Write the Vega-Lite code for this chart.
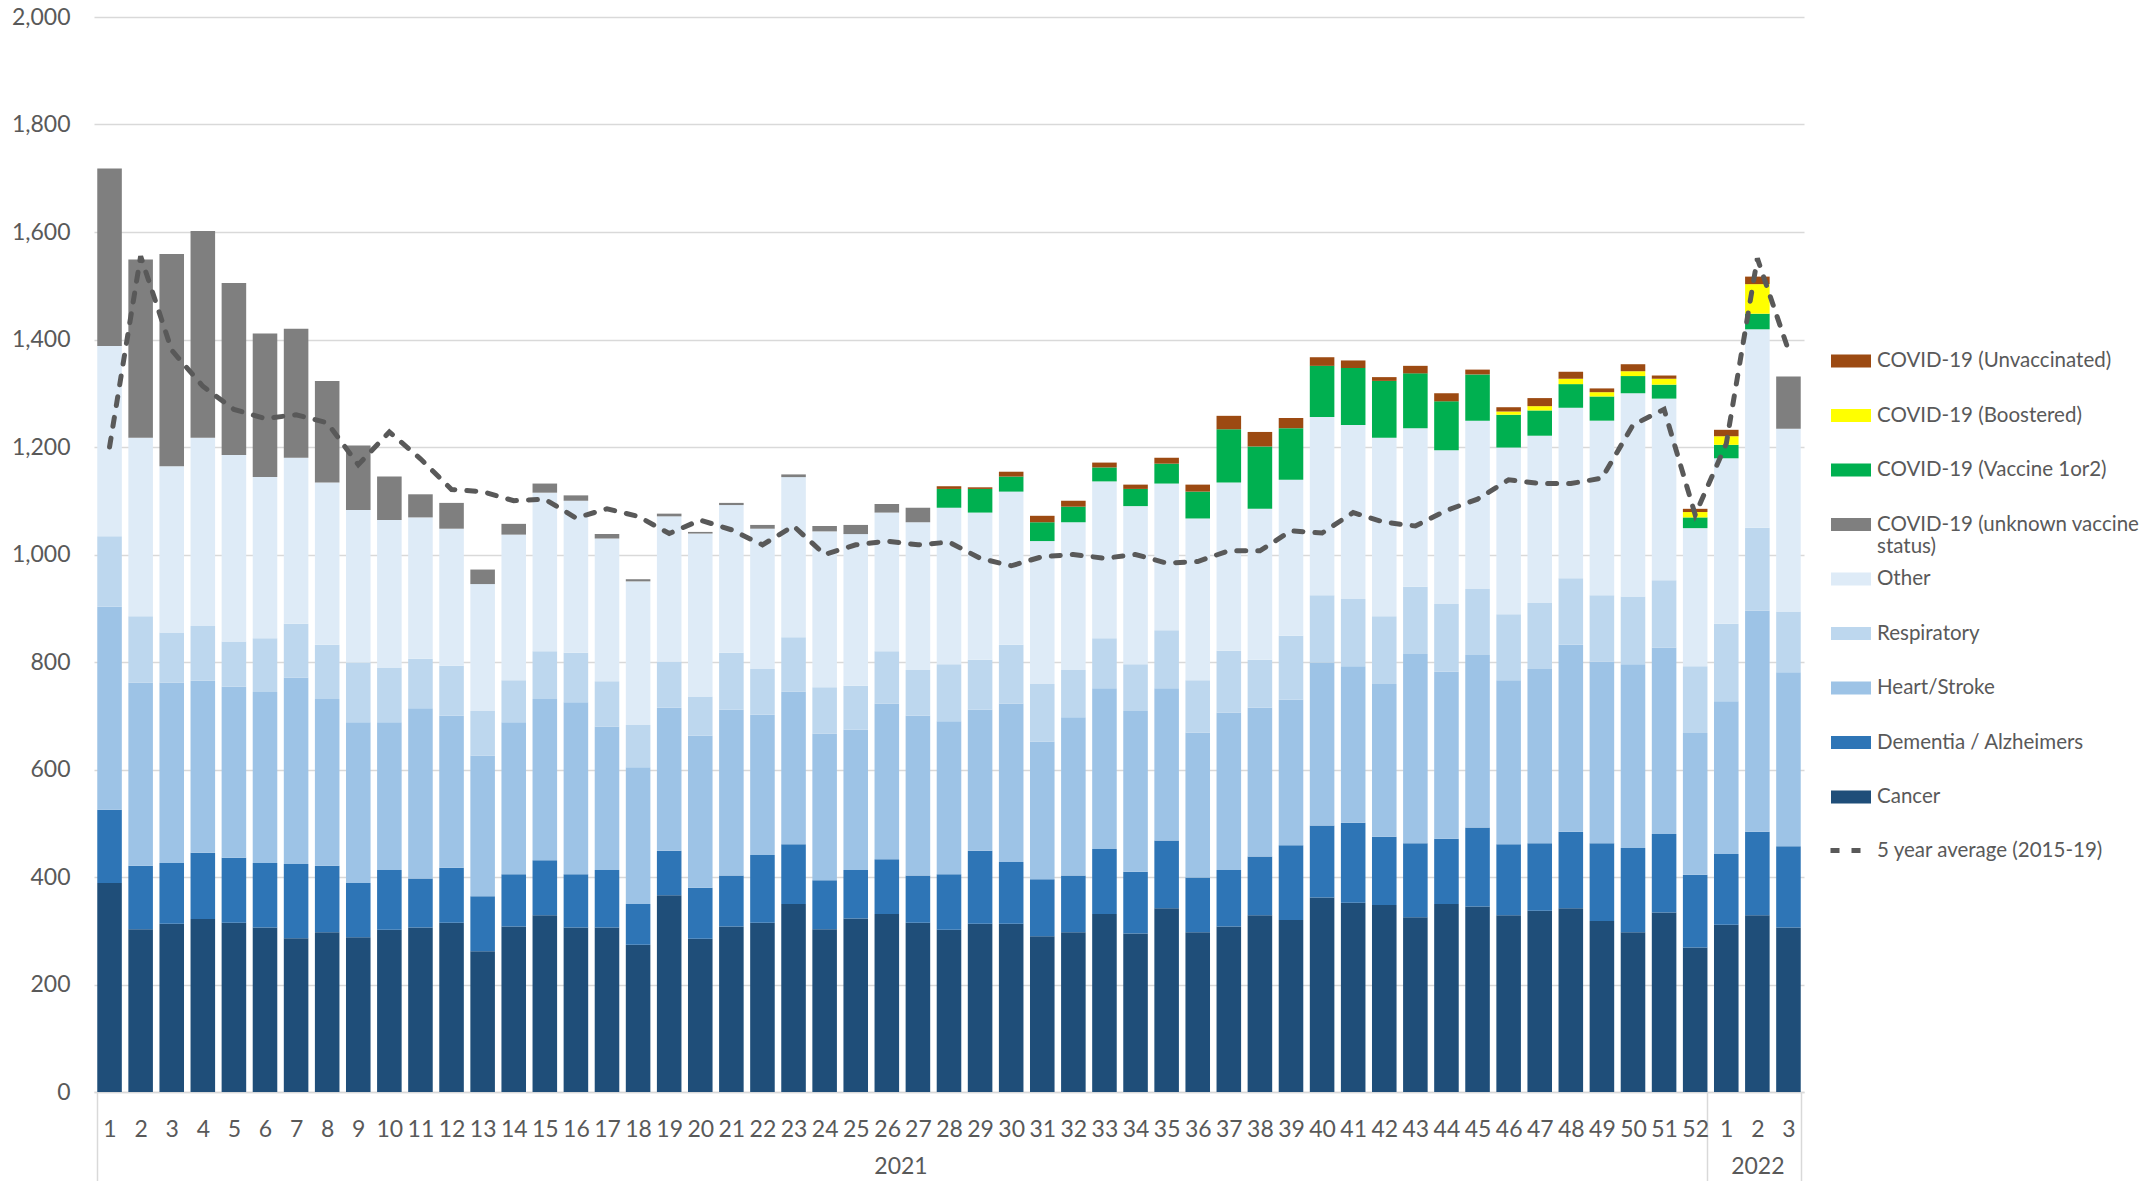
{
  "$schema": "https://vega.github.io/schema/vega-lite/v6.json",
  "autosize": {"type": "none"},
  "width": 1710,
  "height": 1075,
  "padding": {"left": 94, "top": 17, "right": 350, "bottom": 89},
  "background": "white",
  "config": {"view": {"stroke": null}, "font": "Lato"},
  "datasets": {
    "bars": [
      {"week":"2021-01","cause":"Cancer","deaths":389},{"week":"2021-01","cause":"Dementia / Alzheimers","deaths":136},{"week":"2021-01","cause":"Heart/Stroke","deaths":378},{"week":"2021-01","cause":"Respiratory","deaths":131},{"week":"2021-01","cause":"Other","deaths":354},{"week":"2021-01","cause":"COVID-19 (unknown vaccine status)","deaths":330},
      {"week":"2021-02","cause":"Cancer","deaths":303},{"week":"2021-02","cause":"Dementia / Alzheimers","deaths":118},{"week":"2021-02","cause":"Heart/Stroke","deaths":341},{"week":"2021-02","cause":"Respiratory","deaths":123},{"week":"2021-02","cause":"Other","deaths":332},{"week":"2021-02","cause":"COVID-19 (unknown vaccine status)","deaths":332},
      {"week":"2021-03","cause":"Cancer","deaths":313},{"week":"2021-03","cause":"Dementia / Alzheimers","deaths":113},{"week":"2021-03","cause":"Heart/Stroke","deaths":336},{"week":"2021-03","cause":"Respiratory","deaths":93},{"week":"2021-03","cause":"Other","deaths":309},{"week":"2021-03","cause":"COVID-19 (unknown vaccine status)","deaths":395},
      {"week":"2021-04","cause":"Cancer","deaths":322},{"week":"2021-04","cause":"Dementia / Alzheimers","deaths":123},{"week":"2021-04","cause":"Heart/Stroke","deaths":320},{"week":"2021-04","cause":"Respiratory","deaths":102},{"week":"2021-04","cause":"Other","deaths":350},{"week":"2021-04","cause":"COVID-19 (unknown vaccine status)","deaths":385},
      {"week":"2021-05","cause":"Cancer","deaths":315},{"week":"2021-05","cause":"Dementia / Alzheimers","deaths":121},{"week":"2021-05","cause":"Heart/Stroke","deaths":318},{"week":"2021-05","cause":"Respiratory","deaths":84},{"week":"2021-05","cause":"Other","deaths":347},{"week":"2021-05","cause":"COVID-19 (unknown vaccine status)","deaths":320},
      {"week":"2021-06","cause":"Cancer","deaths":306},{"week":"2021-06","cause":"Dementia / Alzheimers","deaths":120},{"week":"2021-06","cause":"Heart/Stroke","deaths":318},{"week":"2021-06","cause":"Respiratory","deaths":100},{"week":"2021-06","cause":"Other","deaths":300},{"week":"2021-06","cause":"COVID-19 (unknown vaccine status)","deaths":267},
      {"week":"2021-07","cause":"Cancer","deaths":286},{"week":"2021-07","cause":"Dementia / Alzheimers","deaths":138},{"week":"2021-07","cause":"Heart/Stroke","deaths":347},{"week":"2021-07","cause":"Respiratory","deaths":100},{"week":"2021-07","cause":"Other","deaths":309},{"week":"2021-07","cause":"COVID-19 (unknown vaccine status)","deaths":240},
      {"week":"2021-08","cause":"Cancer","deaths":297},{"week":"2021-08","cause":"Dementia / Alzheimers","deaths":124},{"week":"2021-08","cause":"Heart/Stroke","deaths":310},{"week":"2021-08","cause":"Respiratory","deaths":101},{"week":"2021-08","cause":"Other","deaths":302},{"week":"2021-08","cause":"COVID-19 (unknown vaccine status)","deaths":189},
      {"week":"2021-09","cause":"Cancer","deaths":288},{"week":"2021-09","cause":"Dementia / Alzheimers","deaths":101},{"week":"2021-09","cause":"Heart/Stroke","deaths":299},{"week":"2021-09","cause":"Respiratory","deaths":111},{"week":"2021-09","cause":"Other","deaths":284},{"week":"2021-09","cause":"COVID-19 (unknown vaccine status)","deaths":120},
      {"week":"2021-10","cause":"Cancer","deaths":302},{"week":"2021-10","cause":"Dementia / Alzheimers","deaths":111},{"week":"2021-10","cause":"Heart/Stroke","deaths":275},{"week":"2021-10","cause":"Respiratory","deaths":102},{"week":"2021-10","cause":"Other","deaths":274},{"week":"2021-10","cause":"COVID-19 (unknown vaccine status)","deaths":81},
      {"week":"2021-11","cause":"Cancer","deaths":306},{"week":"2021-11","cause":"Dementia / Alzheimers","deaths":91},{"week":"2021-11","cause":"Heart/Stroke","deaths":317},{"week":"2021-11","cause":"Respiratory","deaths":92},{"week":"2021-11","cause":"Other","deaths":263},{"week":"2021-11","cause":"COVID-19 (unknown vaccine status)","deaths":43},
      {"week":"2021-12","cause":"Cancer","deaths":315},{"week":"2021-12","cause":"Dementia / Alzheimers","deaths":102},{"week":"2021-12","cause":"Heart/Stroke","deaths":283},{"week":"2021-12","cause":"Respiratory","deaths":93},{"week":"2021-12","cause":"Other","deaths":255},{"week":"2021-12","cause":"COVID-19 (unknown vaccine status)","deaths":48},
      {"week":"2021-13","cause":"Cancer","deaths":262},{"week":"2021-13","cause":"Dementia / Alzheimers","deaths":102},{"week":"2021-13","cause":"Heart/Stroke","deaths":262},{"week":"2021-13","cause":"Respiratory","deaths":83},{"week":"2021-13","cause":"Other","deaths":236},{"week":"2021-13","cause":"COVID-19 (unknown vaccine status)","deaths":27},
      {"week":"2021-14","cause":"Cancer","deaths":308},{"week":"2021-14","cause":"Dementia / Alzheimers","deaths":97},{"week":"2021-14","cause":"Heart/Stroke","deaths":283},{"week":"2021-14","cause":"Respiratory","deaths":78},{"week":"2021-14","cause":"Other","deaths":271},{"week":"2021-14","cause":"COVID-19 (unknown vaccine status)","deaths":20},
      {"week":"2021-15","cause":"Cancer","deaths":329},{"week":"2021-15","cause":"Dementia / Alzheimers","deaths":102},{"week":"2021-15","cause":"Heart/Stroke","deaths":300},{"week":"2021-15","cause":"Respiratory","deaths":89},{"week":"2021-15","cause":"Other","deaths":295},{"week":"2021-15","cause":"COVID-19 (unknown vaccine status)","deaths":17},
      {"week":"2021-16","cause":"Cancer","deaths":306},{"week":"2021-16","cause":"Dementia / Alzheimers","deaths":99},{"week":"2021-16","cause":"Heart/Stroke","deaths":320},{"week":"2021-16","cause":"Respiratory","deaths":92},{"week":"2021-16","cause":"Other","deaths":283},{"week":"2021-16","cause":"COVID-19 (unknown vaccine status)","deaths":10},
      {"week":"2021-17","cause":"Cancer","deaths":306},{"week":"2021-17","cause":"Dementia / Alzheimers","deaths":107},{"week":"2021-17","cause":"Heart/Stroke","deaths":267},{"week":"2021-17","cause":"Respiratory","deaths":84},{"week":"2021-17","cause":"Other","deaths":266},{"week":"2021-17","cause":"COVID-19 (unknown vaccine status)","deaths":8},
      {"week":"2021-18","cause":"Cancer","deaths":274},{"week":"2021-18","cause":"Dementia / Alzheimers","deaths":76},{"week":"2021-18","cause":"Heart/Stroke","deaths":254},{"week":"2021-18","cause":"Respiratory","deaths":79},{"week":"2021-18","cause":"Other","deaths":267},{"week":"2021-18","cause":"COVID-19 (unknown vaccine status)","deaths":4},
      {"week":"2021-19","cause":"Cancer","deaths":366},{"week":"2021-19","cause":"Dementia / Alzheimers","deaths":83},{"week":"2021-19","cause":"Heart/Stroke","deaths":266},{"week":"2021-19","cause":"Respiratory","deaths":86},{"week":"2021-19","cause":"Other","deaths":270},{"week":"2021-19","cause":"COVID-19 (unknown vaccine status)","deaths":5},
      {"week":"2021-20","cause":"Cancer","deaths":285},{"week":"2021-20","cause":"Dementia / Alzheimers","deaths":95},{"week":"2021-20","cause":"Heart/Stroke","deaths":283},{"week":"2021-20","cause":"Respiratory","deaths":73},{"week":"2021-20","cause":"Other","deaths":303},{"week":"2021-20","cause":"COVID-19 (unknown vaccine status)","deaths":3},
      {"week":"2021-21","cause":"Cancer","deaths":308},{"week":"2021-21","cause":"Dementia / Alzheimers","deaths":95},{"week":"2021-21","cause":"Heart/Stroke","deaths":308},{"week":"2021-21","cause":"Respiratory","deaths":106},{"week":"2021-21","cause":"Other","deaths":275},{"week":"2021-21","cause":"COVID-19 (unknown vaccine status)","deaths":4},
      {"week":"2021-22","cause":"Cancer","deaths":315},{"week":"2021-22","cause":"Dementia / Alzheimers","deaths":126},{"week":"2021-22","cause":"Heart/Stroke","deaths":261},{"week":"2021-22","cause":"Respiratory","deaths":85},{"week":"2021-22","cause":"Other","deaths":261},{"week":"2021-22","cause":"COVID-19 (unknown vaccine status)","deaths":7},
      {"week":"2021-23","cause":"Cancer","deaths":350},{"week":"2021-23","cause":"Dementia / Alzheimers","deaths":111},{"week":"2021-23","cause":"Heart/Stroke","deaths":284},{"week":"2021-23","cause":"Respiratory","deaths":101},{"week":"2021-23","cause":"Other","deaths":298},{"week":"2021-23","cause":"COVID-19 (unknown vaccine status)","deaths":5},
      {"week":"2021-24","cause":"Cancer","deaths":303},{"week":"2021-24","cause":"Dementia / Alzheimers","deaths":91},{"week":"2021-24","cause":"Heart/Stroke","deaths":273},{"week":"2021-24","cause":"Respiratory","deaths":86},{"week":"2021-24","cause":"Other","deaths":290},{"week":"2021-24","cause":"COVID-19 (unknown vaccine status)","deaths":10},
      {"week":"2021-25","cause":"Cancer","deaths":323},{"week":"2021-25","cause":"Dementia / Alzheimers","deaths":90},{"week":"2021-25","cause":"Heart/Stroke","deaths":261},{"week":"2021-25","cause":"Respiratory","deaths":82},{"week":"2021-25","cause":"Other","deaths":282},{"week":"2021-25","cause":"COVID-19 (unknown vaccine status)","deaths":17},
      {"week":"2021-26","cause":"Cancer","deaths":331},{"week":"2021-26","cause":"Dementia / Alzheimers","deaths":102},{"week":"2021-26","cause":"Heart/Stroke","deaths":290},{"week":"2021-26","cause":"Respiratory","deaths":97},{"week":"2021-26","cause":"Other","deaths":258},{"week":"2021-26","cause":"COVID-19 (unknown vaccine status)","deaths":16},
      {"week":"2021-27","cause":"Cancer","deaths":315},{"week":"2021-27","cause":"Dementia / Alzheimers","deaths":88},{"week":"2021-27","cause":"Heart/Stroke","deaths":297},{"week":"2021-27","cause":"Respiratory","deaths":85},{"week":"2021-27","cause":"Other","deaths":275},{"week":"2021-27","cause":"COVID-19 (unknown vaccine status)","deaths":27},
      {"week":"2021-28","cause":"Cancer","deaths":302},{"week":"2021-28","cause":"Dementia / Alzheimers","deaths":103},{"week":"2021-28","cause":"Heart/Stroke","deaths":285},{"week":"2021-28","cause":"Respiratory","deaths":106},{"week":"2021-28","cause":"Other","deaths":291},{"week":"2021-28","cause":"COVID-19 (Vaccine 1or2)","deaths":35},{"week":"2021-28","cause":"COVID-19 (Unvaccinated)","deaths":5},
      {"week":"2021-29","cause":"Cancer","deaths":313},{"week":"2021-29","cause":"Dementia / Alzheimers","deaths":136},{"week":"2021-29","cause":"Heart/Stroke","deaths":262},{"week":"2021-29","cause":"Respiratory","deaths":93},{"week":"2021-29","cause":"Other","deaths":274},{"week":"2021-29","cause":"COVID-19 (Vaccine 1or2)","deaths":44},{"week":"2021-29","cause":"COVID-19 (Unvaccinated)","deaths":3},
      {"week":"2021-30","cause":"Cancer","deaths":313},{"week":"2021-30","cause":"Dementia / Alzheimers","deaths":115},{"week":"2021-30","cause":"Heart/Stroke","deaths":295},{"week":"2021-30","cause":"Respiratory","deaths":109},{"week":"2021-30","cause":"Other","deaths":285},{"week":"2021-30","cause":"COVID-19 (Vaccine 1or2)","deaths":28},{"week":"2021-30","cause":"COVID-19 (Unvaccinated)","deaths":9},
      {"week":"2021-31","cause":"Cancer","deaths":290},{"week":"2021-31","cause":"Dementia / Alzheimers","deaths":106},{"week":"2021-31","cause":"Heart/Stroke","deaths":256},{"week":"2021-31","cause":"Respiratory","deaths":107},{"week":"2021-31","cause":"Other","deaths":266},{"week":"2021-31","cause":"COVID-19 (Vaccine 1or2)","deaths":35},{"week":"2021-31","cause":"COVID-19 (Unvaccinated)","deaths":12},
      {"week":"2021-32","cause":"Cancer","deaths":297},{"week":"2021-32","cause":"Dementia / Alzheimers","deaths":106},{"week":"2021-32","cause":"Heart/Stroke","deaths":294},{"week":"2021-32","cause":"Respiratory","deaths":88},{"week":"2021-32","cause":"Other","deaths":275},{"week":"2021-32","cause":"COVID-19 (Vaccine 1or2)","deaths":29},{"week":"2021-32","cause":"COVID-19 (Unvaccinated)","deaths":11},
      {"week":"2021-33","cause":"Cancer","deaths":331},{"week":"2021-33","cause":"Dementia / Alzheimers","deaths":121},{"week":"2021-33","cause":"Heart/Stroke","deaths":299},{"week":"2021-33","cause":"Respiratory","deaths":93},{"week":"2021-33","cause":"Other","deaths":292},{"week":"2021-33","cause":"COVID-19 (Vaccine 1or2)","deaths":26},{"week":"2021-33","cause":"COVID-19 (Unvaccinated)","deaths":9},
      {"week":"2021-34","cause":"Cancer","deaths":295},{"week":"2021-34","cause":"Dementia / Alzheimers","deaths":115},{"week":"2021-34","cause":"Heart/Stroke","deaths":299},{"week":"2021-34","cause":"Respiratory","deaths":87},{"week":"2021-34","cause":"Other","deaths":294},{"week":"2021-34","cause":"COVID-19 (Vaccine 1or2)","deaths":32},{"week":"2021-34","cause":"COVID-19 (Unvaccinated)","deaths":8},
      {"week":"2021-35","cause":"Cancer","deaths":342},{"week":"2021-35","cause":"Dementia / Alzheimers","deaths":126},{"week":"2021-35","cause":"Heart/Stroke","deaths":283},{"week":"2021-35","cause":"Respiratory","deaths":108},{"week":"2021-35","cause":"Other","deaths":273},{"week":"2021-35","cause":"COVID-19 (Vaccine 1or2)","deaths":37},{"week":"2021-35","cause":"COVID-19 (Unvaccinated)","deaths":11},
      {"week":"2021-36","cause":"Cancer","deaths":297},{"week":"2021-36","cause":"Dementia / Alzheimers","deaths":102},{"week":"2021-36","cause":"Heart/Stroke","deaths":270},{"week":"2021-36","cause":"Respiratory","deaths":97},{"week":"2021-36","cause":"Other","deaths":301},{"week":"2021-36","cause":"COVID-19 (Vaccine 1or2)","deaths":50},{"week":"2021-36","cause":"COVID-19 (Unvaccinated)","deaths":13},
      {"week":"2021-37","cause":"Cancer","deaths":308},{"week":"2021-37","cause":"Dementia / Alzheimers","deaths":105},{"week":"2021-37","cause":"Heart/Stroke","deaths":293},{"week":"2021-37","cause":"Respiratory","deaths":115},{"week":"2021-37","cause":"Other","deaths":313},{"week":"2021-37","cause":"COVID-19 (Vaccine 1or2)","deaths":99},{"week":"2021-37","cause":"COVID-19 (Unvaccinated)","deaths":25},
      {"week":"2021-38","cause":"Cancer","deaths":329},{"week":"2021-38","cause":"Dementia / Alzheimers","deaths":109},{"week":"2021-38","cause":"Heart/Stroke","deaths":277},{"week":"2021-38","cause":"Respiratory","deaths":89},{"week":"2021-38","cause":"Other","deaths":281},{"week":"2021-38","cause":"COVID-19 (Vaccine 1or2)","deaths":116},{"week":"2021-38","cause":"COVID-19 (Unvaccinated)","deaths":27},
      {"week":"2021-39","cause":"Cancer","deaths":320},{"week":"2021-39","cause":"Dementia / Alzheimers","deaths":139},{"week":"2021-39","cause":"Heart/Stroke","deaths":271},{"week":"2021-39","cause":"Respiratory","deaths":119},{"week":"2021-39","cause":"Other","deaths":290},{"week":"2021-39","cause":"COVID-19 (Vaccine 1or2)","deaths":96},{"week":"2021-39","cause":"COVID-19 (Unvaccinated)","deaths":19},
      {"week":"2021-40","cause":"Cancer","deaths":362},{"week":"2021-40","cause":"Dementia / Alzheimers","deaths":134},{"week":"2021-40","cause":"Heart/Stroke","deaths":303},{"week":"2021-40","cause":"Respiratory","deaths":125},{"week":"2021-40","cause":"Other","deaths":332},{"week":"2021-40","cause":"COVID-19 (Vaccine 1or2)","deaths":95},{"week":"2021-40","cause":"COVID-19 (Unvaccinated)","deaths":16},
      {"week":"2021-41","cause":"Cancer","deaths":352},{"week":"2021-41","cause":"Dementia / Alzheimers","deaths":149},{"week":"2021-41","cause":"Heart/Stroke","deaths":291},{"week":"2021-41","cause":"Respiratory","deaths":125},{"week":"2021-41","cause":"Other","deaths":324},{"week":"2021-41","cause":"COVID-19 (Vaccine 1or2)","deaths":106},{"week":"2021-41","cause":"COVID-19 (Unvaccinated)","deaths":14},
      {"week":"2021-42","cause":"Cancer","deaths":348},{"week":"2021-42","cause":"Dementia / Alzheimers","deaths":127},{"week":"2021-42","cause":"Heart/Stroke","deaths":284},{"week":"2021-42","cause":"Respiratory","deaths":126},{"week":"2021-42","cause":"Other","deaths":332},{"week":"2021-42","cause":"COVID-19 (Vaccine 1or2)","deaths":106},{"week":"2021-42","cause":"COVID-19 (Unvaccinated)","deaths":7},
      {"week":"2021-43","cause":"Cancer","deaths":325},{"week":"2021-43","cause":"Dementia / Alzheimers","deaths":138},{"week":"2021-43","cause":"Heart/Stroke","deaths":352},{"week":"2021-43","cause":"Respiratory","deaths":125},{"week":"2021-43","cause":"Other","deaths":295},{"week":"2021-43","cause":"COVID-19 (Vaccine 1or2)","deaths":102},{"week":"2021-43","cause":"COVID-19 (Unvaccinated)","deaths":14},
      {"week":"2021-44","cause":"Cancer","deaths":350},{"week":"2021-44","cause":"Dementia / Alzheimers","deaths":121},{"week":"2021-44","cause":"Heart/Stroke","deaths":311},{"week":"2021-44","cause":"Respiratory","deaths":126},{"week":"2021-44","cause":"Other","deaths":286},{"week":"2021-44","cause":"COVID-19 (Vaccine 1or2)","deaths":91},{"week":"2021-44","cause":"COVID-19 (Unvaccinated)","deaths":15},
      {"week":"2021-45","cause":"Cancer","deaths":345},{"week":"2021-45","cause":"Dementia / Alzheimers","deaths":147},{"week":"2021-45","cause":"Heart/Stroke","deaths":321},{"week":"2021-45","cause":"Respiratory","deaths":123},{"week":"2021-45","cause":"Other","deaths":313},{"week":"2021-45","cause":"COVID-19 (Vaccine 1or2)","deaths":86},{"week":"2021-45","cause":"COVID-19 (Unvaccinated)","deaths":9},
      {"week":"2021-46","cause":"Cancer","deaths":329},{"week":"2021-46","cause":"Dementia / Alzheimers","deaths":132},{"week":"2021-46","cause":"Heart/Stroke","deaths":305},{"week":"2021-46","cause":"Respiratory","deaths":123},{"week":"2021-46","cause":"Other","deaths":310},{"week":"2021-46","cause":"COVID-19 (Vaccine 1or2)","deaths":61},{"week":"2021-46","cause":"COVID-19 (Boostered)","deaths":6},{"week":"2021-46","cause":"COVID-19 (Unvaccinated)","deaths":8},
      {"week":"2021-47","cause":"Cancer","deaths":337},{"week":"2021-47","cause":"Dementia / Alzheimers","deaths":126},{"week":"2021-47","cause":"Heart/Stroke","deaths":324},{"week":"2021-47","cause":"Respiratory","deaths":123},{"week":"2021-47","cause":"Other","deaths":311},{"week":"2021-47","cause":"COVID-19 (Vaccine 1or2)","deaths":47},{"week":"2021-47","cause":"COVID-19 (Boostered)","deaths":8},{"week":"2021-47","cause":"COVID-19 (Unvaccinated)","deaths":15},
      {"week":"2021-48","cause":"Cancer","deaths":342},{"week":"2021-48","cause":"Dementia / Alzheimers","deaths":142},{"week":"2021-48","cause":"Heart/Stroke","deaths":348},{"week":"2021-48","cause":"Respiratory","deaths":124},{"week":"2021-48","cause":"Other","deaths":317},{"week":"2021-48","cause":"COVID-19 (Vaccine 1or2)","deaths":44},{"week":"2021-48","cause":"COVID-19 (Boostered)","deaths":10},{"week":"2021-48","cause":"COVID-19 (Unvaccinated)","deaths":13},
      {"week":"2021-49","cause":"Cancer","deaths":318},{"week":"2021-49","cause":"Dementia / Alzheimers","deaths":145},{"week":"2021-49","cause":"Heart/Stroke","deaths":338},{"week":"2021-49","cause":"Respiratory","deaths":123},{"week":"2021-49","cause":"Other","deaths":325},{"week":"2021-49","cause":"COVID-19 (Vaccine 1or2)","deaths":45},{"week":"2021-49","cause":"COVID-19 (Boostered)","deaths":8},{"week":"2021-49","cause":"COVID-19 (Unvaccinated)","deaths":7},
      {"week":"2021-50","cause":"Cancer","deaths":297},{"week":"2021-50","cause":"Dementia / Alzheimers","deaths":157},{"week":"2021-50","cause":"Heart/Stroke","deaths":342},{"week":"2021-50","cause":"Respiratory","deaths":126},{"week":"2021-50","cause":"Other","deaths":378},{"week":"2021-50","cause":"COVID-19 (Vaccine 1or2)","deaths":32},{"week":"2021-50","cause":"COVID-19 (Boostered)","deaths":9},{"week":"2021-50","cause":"COVID-19 (Unvaccinated)","deaths":13},
      {"week":"2021-51","cause":"Cancer","deaths":334},{"week":"2021-51","cause":"Dementia / Alzheimers","deaths":146},{"week":"2021-51","cause":"Heart/Stroke","deaths":347},{"week":"2021-51","cause":"Respiratory","deaths":125},{"week":"2021-51","cause":"Other","deaths":338},{"week":"2021-51","cause":"COVID-19 (Vaccine 1or2)","deaths":26},{"week":"2021-51","cause":"COVID-19 (Boostered)","deaths":11},{"week":"2021-51","cause":"COVID-19 (Unvaccinated)","deaths":6},
      {"week":"2021-52","cause":"Cancer","deaths":269},{"week":"2021-52","cause":"Dementia / Alzheimers","deaths":135},{"week":"2021-52","cause":"Heart/Stroke","deaths":264},{"week":"2021-52","cause":"Respiratory","deaths":124},{"week":"2021-52","cause":"Other","deaths":257},{"week":"2021-52","cause":"COVID-19 (Vaccine 1or2)","deaths":20},{"week":"2021-52","cause":"COVID-19 (Boostered)","deaths":10},{"week":"2021-52","cause":"COVID-19 (Unvaccinated)","deaths":6},
      {"week":"2022-01","cause":"Cancer","deaths":311},{"week":"2022-01","cause":"Dementia / Alzheimers","deaths":132},{"week":"2022-01","cause":"Heart/Stroke","deaths":284},{"week":"2022-01","cause":"Respiratory","deaths":144},{"week":"2022-01","cause":"Other","deaths":308},{"week":"2022-01","cause":"COVID-19 (Vaccine 1or2)","deaths":25},{"week":"2022-01","cause":"COVID-19 (Boostered)","deaths":16},{"week":"2022-01","cause":"COVID-19 (Unvaccinated)","deaths":12},
      {"week":"2022-02","cause":"Cancer","deaths":329},{"week":"2022-02","cause":"Dementia / Alzheimers","deaths":155},{"week":"2022-02","cause":"Heart/Stroke","deaths":412},{"week":"2022-02","cause":"Respiratory","deaths":154},{"week":"2022-02","cause":"Other","deaths":369},{"week":"2022-02","cause":"COVID-19 (Vaccine 1or2)","deaths":29},{"week":"2022-02","cause":"COVID-19 (Boostered)","deaths":55},{"week":"2022-02","cause":"COVID-19 (Unvaccinated)","deaths":14},
      {"week":"2022-03","cause":"Cancer","deaths":306},{"week":"2022-03","cause":"Dementia / Alzheimers","deaths":151},{"week":"2022-03","cause":"Heart/Stroke","deaths":324},{"week":"2022-03","cause":"Respiratory","deaths":113},{"week":"2022-03","cause":"Other","deaths":340},{"week":"2022-03","cause":"COVID-19 (unknown vaccine status)","deaths":97}
    ],
    "avg": [
      {"week":"2021-01","avg":1200,"series":"5 year average (2015-19)"},{"week":"2021-02","avg":1555,"series":"5 year average (2015-19)"},{"week":"2021-03","avg":1380,"series":"5 year average (2015-19)"},{"week":"2021-04","avg":1313,"series":"5 year average (2015-19)"},{"week":"2021-05","avg":1270,"series":"5 year average (2015-19)"},{"week":"2021-06","avg":1253,"series":"5 year average (2015-19)"},{"week":"2021-07","avg":1260,"series":"5 year average (2015-19)"},{"week":"2021-08","avg":1245,"series":"5 year average (2015-19)"},{"week":"2021-09","avg":1167,"series":"5 year average (2015-19)"},{"week":"2021-10","avg":1228,"series":"5 year average (2015-19)"},
      {"week":"2021-11","avg":1178,"series":"5 year average (2015-19)"},{"week":"2021-12","avg":1121,"series":"5 year average (2015-19)"},{"week":"2021-13","avg":1117,"series":"5 year average (2015-19)"},{"week":"2021-14","avg":1100,"series":"5 year average (2015-19)"},{"week":"2021-15","avg":1103,"series":"5 year average (2015-19)"},{"week":"2021-16","avg":1068,"series":"5 year average (2015-19)"},{"week":"2021-17","avg":1085,"series":"5 year average (2015-19)"},{"week":"2021-18","avg":1071,"series":"5 year average (2015-19)"},{"week":"2021-19","avg":1039,"series":"5 year average (2015-19)"},{"week":"2021-20","avg":1064,"series":"5 year average (2015-19)"},
      {"week":"2021-21","avg":1046,"series":"5 year average (2015-19)"},{"week":"2021-22","avg":1018,"series":"5 year average (2015-19)"},{"week":"2021-23","avg":1053,"series":"5 year average (2015-19)"},{"week":"2021-24","avg":1000,"series":"5 year average (2015-19)"},{"week":"2021-25","avg":1018,"series":"5 year average (2015-19)"},{"week":"2021-26","avg":1025,"series":"5 year average (2015-19)"},{"week":"2021-27","avg":1018,"series":"5 year average (2015-19)"},{"week":"2021-28","avg":1023,"series":"5 year average (2015-19)"},{"week":"2021-29","avg":993,"series":"5 year average (2015-19)"},{"week":"2021-30","avg":979,"series":"5 year average (2015-19)"},
      {"week":"2021-31","avg":996,"series":"5 year average (2015-19)"},{"week":"2021-32","avg":1000,"series":"5 year average (2015-19)"},{"week":"2021-33","avg":993,"series":"5 year average (2015-19)"},{"week":"2021-34","avg":1000,"series":"5 year average (2015-19)"},{"week":"2021-35","avg":984,"series":"5 year average (2015-19)"},{"week":"2021-36","avg":987,"series":"5 year average (2015-19)"},{"week":"2021-37","avg":1007,"series":"5 year average (2015-19)"},{"week":"2021-38","avg":1007,"series":"5 year average (2015-19)"},{"week":"2021-39","avg":1044,"series":"5 year average (2015-19)"},{"week":"2021-40","avg":1040,"series":"5 year average (2015-19)"},
      {"week":"2021-41","avg":1078,"series":"5 year average (2015-19)"},{"week":"2021-42","avg":1060,"series":"5 year average (2015-19)"},{"week":"2021-43","avg":1053,"series":"5 year average (2015-19)"},{"week":"2021-44","avg":1082,"series":"5 year average (2015-19)"},{"week":"2021-45","avg":1103,"series":"5 year average (2015-19)"},{"week":"2021-46","avg":1139,"series":"5 year average (2015-19)"},{"week":"2021-47","avg":1132,"series":"5 year average (2015-19)"},{"week":"2021-48","avg":1132,"series":"5 year average (2015-19)"},{"week":"2021-49","avg":1142,"series":"5 year average (2015-19)"},{"week":"2021-50","avg":1241,"series":"5 year average (2015-19)"},
      {"week":"2021-51","avg":1270,"series":"5 year average (2015-19)"},{"week":"2021-52","avg":1074,"series":"5 year average (2015-19)"},{"week":"2022-01","avg":1206,"series":"5 year average (2015-19)"},{"week":"2022-02","avg":1551,"series":"5 year average (2015-19)"},{"week":"2022-03","avg":1380,"series":"5 year average (2015-19)"}
    ]
  },
  "encoding": {
    "x": {
      "field": "week",
      "type": "nominal",
      "scale": {"paddingInner": 0.21, "paddingOuter": 0.105},
      "axis": {
        "title": null,
        "labelAngle": 0,
        "domainColor": "#d9d9d9",
        "domainWidth": 1.5,
        "ticks": true,
        "tickBand": "extent",
        "tickSize": 90,
        "tickColor": "#d9d9d9",
        "tickWidth": 1.5,
        "tickOpacity": {"condition": {"test": "datum.extra || datum.value === '2021-52' || datum.value === '2022-03'", "value": 1}, "value": 0},
        "labelPadding": -64,
        "labelFont": "Lato",
        "labelFontSize": 23,
        "labelColor": "#595959",
        "labelLineHeight": 37,
        "labelAlign": {"condition": {"test": "datum.value === '2021-26'", "value": "left"}, "value": "center"},
        "labelOffset": {"condition": {"test": "datum.value === '2021-26'", "value": -13}, "value": 0},
        "labelExpr": "!isString(datum.value) ? '' : datum.value === '2021-26' ? ['26', '2021'] : datum.value === '2022-02' ? ['2', '2022'] : '' + toNumber(substring(datum.value, 5, 7))"
      }
    }
  },
  "layer": [
    {
      "data": {"name": "bars"},
      "mark": {"type": "bar"},
      "encoding": {
        "y": {
          "field": "deaths",
          "type": "quantitative",
          "stack": "zero",
          "scale": {"domain": [0, 2000]},
          "axis": {
            "title": null,
            "domain": false,
            "ticks": false,
            "grid": true,
            "gridColor": "#d9d9d9",
            "gridWidth": 1.5,
            "values": [0, 200, 400, 600, 800, 1000, 1200, 1400, 1600, 1800, 2000],
            "labelExpr": "format(datum.value, ',.0f')",
            "labelFont": "Lato",
            "labelFontSize": 23,
            "labelColor": "#595959",
            "labelPadding": 24
          }
        },
        "color": {
          "field": "cause",
          "type": "nominal",
          "scale": {
            "domain": ["COVID-19 (Unvaccinated)", "COVID-19 (Boostered)", "COVID-19 (Vaccine 1or2)", "COVID-19 (unknown vaccine status)", "Other", "Respiratory", "Heart/Stroke", "Dementia / Alzheimers", "Cancer"],
            "range": ["#9C4A12", "#FFFF00", "#00B050", "#7F7F7F", "#DEEBF7", "#BDD7EE", "#9DC3E6", "#2E75B6", "#1F4E79"]
          },
          "legend": {
            "orient": "none",
            "legendX": 1737,
            "legendY": 324,
            "title": null,
            "padding": 0,
            "gridAlign": "all",
            "symbolType": "M-1,-0.32L1,-0.32L1,0.32L-1,0.32Z",
            "symbolSize": 1600,
            "symbolStrokeWidth": 0,
            "symbolOpacity": 1,
            "labelFont": "Lato",
            "labelFontSize": 20.5,
            "labelColor": "#595959",
            "labelOffset": 6,
            "labelLimit": 400,
            "rowPadding": 1.5,
            "labelExpr": "datum.value === 'COVID-19 (unknown vaccine status)' ? ['COVID-19 (unknown vaccine', 'status)'] : datum.label"
          }
        },
        "order": {"field": "week", "type": "ordinal"}
      }
    },
    {
      "data": {"name": "avg"},
      "mark": {"type": "line", "strokeWidth": 5, "strokeCap": "round", "color": "#595959"},
      "encoding": {
        "y": {
          "field": "avg",
          "type": "quantitative",
          "axis": {
            "title": null,
            "domain": false,
            "ticks": false,
            "grid": true,
            "gridColor": "#d9d9d9",
            "gridWidth": 1.5,
            "values": [0, 200, 400, 600, 800, 1000, 1200, 1400, 1600, 1800, 2000],
            "labelExpr": "format(datum.value, ',.0f')",
            "labelFont": "Lato",
            "labelFontSize": 23,
            "labelColor": "#595959",
            "labelPadding": 24
          }
        },
        "strokeDash": {
          "field": "series",
          "type": "nominal",
          "scale": {"range": [[9, 12]]},
          "legend": {
            "orient": "none",
            "legendX": 1734,
            "legendY": 811,
            "title": null,
            "padding": 0,
            "symbolType": "stroke",
            "symbolSize": 1600,
            "symbolStrokeColor": "#595959",
            "symbolStrokeWidth": 5,
            "symbolDash": [18, 4],
            "labelFont": "Lato",
            "labelFontSize": 20.5,
            "labelColor": "#595959",
            "labelOffset": 4,
            "labelLimit": 400
          }
        }
      }
    }
  ]
}
